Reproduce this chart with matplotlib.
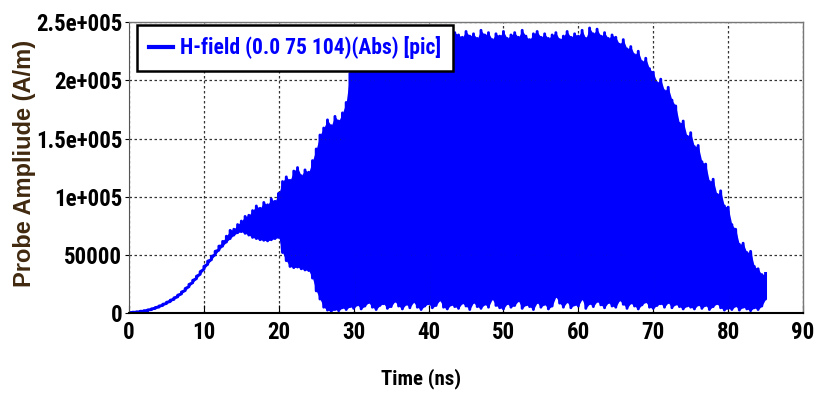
import os
import matplotlib
matplotlib.use('Agg')
import matplotlib.pyplot as plt
from matplotlib import font_manager as fm
import numpy as np

# sampled every 0.5 ns, 0 .. 85 ns
t_ns = np.arange(0, 85.01, 0.5)

# upper envelope of |H| (A/m)
h_upper = [
    500, 700, 1000, 1500, 2000, 2700, 3600, 4700, 6000, 7500,
    9200, 11000, 13000, 15300, 18000, 21000, 24500, 28000, 31500, 35500,
    40000, 44500, 48500, 53000, 57500, 61500, 66000, 71000, 72000, 76000,
    79000, 83000, 84000, 88000, 92000, 90000, 95000, 93000, 98000, 96000,
    103000, 113000, 117000, 114000, 122000, 125000, 118000, 123000, 121000, 131000,
    141000, 153000, 159000, 166000, 161000, 169000, 165000, 172000, 181000, 206000,
    232000, 226000, 238000, 236000, 241000, 235000, 240000, 237000, 243000, 236000,
    239000, 242000, 235000, 240000, 244000, 238000, 241000, 236000, 243000, 239000,
    242000, 237000, 240000, 244000, 238000, 243000, 236000, 241000, 239000, 237000,
    242000, 238000, 240000, 236000, 243000, 239000, 241000, 235000, 240000, 238000,
    242000, 236000, 239000, 241000, 237000, 243000, 238000, 235000, 240000, 242000,
    237000, 240000, 236000, 239000, 241000, 235000, 238000, 242000, 237000, 240000,
    238000, 243000, 236000, 245000, 240000, 244000, 238000, 241000, 236000, 239000,
    237000, 231000, 235000, 227000, 229000, 222000, 225000, 216000, 219000, 210000,
    207000, 198000, 201000, 191000, 194000, 183000, 178000, 163000, 165000, 152000,
    155000, 143000, 144000, 130000, 128000, 113000, 115000, 102000, 105000, 92000,
    91000, 76000, 72000, 59000, 60000, 52000, 53000, 40000, 38000, 33000,
    34000,
]

# lower envelope of |H| (A/m)
h_lower = [
    0, 200, 500, 900, 1400, 2000, 2900, 3900, 5100, 6500,
    8100, 9800, 11700, 13900, 16400, 19300, 22600, 26000, 29500, 33300,
    37500, 41800, 45800, 50000, 54000, 57500, 61000, 64000, 67000, 69000,
    70000, 68500, 67000, 65000, 64000, 63000, 62500, 62000, 63000, 64000,
    65000, 52000, 45000, 40000, 39000, 39500, 38000, 37000, 36500, 30000,
    19000, 12000, 5000, 2500, 1500, 3000, 2000, 4500, 3000, 5500,
    4000, 7000, 3500, 6000, 9000, 5000, 3000, 6500, 8000, 4000,
    5500, 10000, 6000, 3500, 7500, 4500, 9500, 5000, 3000, 6000,
    8000, 4500, 6500, 11000, 5000, 3500, 7000, 5500, 4000, 8500,
    6000, 3000, 9000, 5500, 4000, 7500, 5000, 12000, 6500, 4500,
    3500, 8000, 5000, 6500, 10500, 4000, 7000, 5500, 3000, 9000,
    5000, 7500, 3500, 6000, 14000, 8500, 5000, 9500, 4500, 7000,
    6000, 12000, 4000, 8000, 5500, 10000, 7000, 4500, 9000, 6000,
    5000, 11000, 7500, 4000, 8500, 6000, 3500, 7000, 9500, 5000,
    4000, 6500, 8000, 5000, 9000, 4500, 7500, 5500, 3500, 6000,
    5000, 3500, 7000, 4000, 6500, 3000, 5500, 8000, 4500, 2500,
    4000, 3000, 6000, 2500, 5000, 3500, 2000, 4500, 3000, 6000,
    12000,
]

x_ticks = [0, 10, 20, 30, 40, 50, 60, 70, 80, 90]
y_ticks = [0, 50000, 100000, 150000, 200000, 250000]
y_tick_labels = ['0', '50000', '1e+005', '1.5e+005', '2e+005', '2.5e+005']
legend_label = 'H-field (0.0 75 104)(Abs) [pic]'

blue = '#0000ff'


def find_narrow_bold():
    """look for an Arial-Narrow-like bold face among installed fonts"""
    prefs = ['liberation', 'roboto', 'open', 'noto', 'dejavu']
    found = []
    for f in fm.fontManager.ttflist:
        nm = f.name.lower()
        fn = os.path.basename(f.fname).lower()
        narrow = ('narrow' in nm or 'condensed' in nm or 'narrow' in fn
                  or 'condensed' in fn
                  or f.stretch in ('condensed', 'semi-condensed'))
        bold = (f.weight in ('bold', 700) or 'bold' in fn)
        if 'italic' in fn or 'oblique' in fn or 'semibold' in fn:
            continue
        if narrow and bold:
            rank = next((i for i, p in enumerate(prefs) if p in nm), 9)
            found.append((rank, f.fname))
    if found:
        return sorted(found)[0][1]
    return None


narrow_path = find_narrow_bold()
if narrow_path:
    def fp(size):
        return fm.FontProperties(fname=narrow_path, size=size)
    tick_sz, leg_sz, xl_sz = 16.5, 15.5, 15
else:
    def fp(size):
        return fm.FontProperties(family='Liberation Sans', weight='bold', size=size)
    tick_sz, leg_sz, xl_sz = 13.7, 12.5, 12.8

fig = plt.figure(figsize=(8.14, 3.96), dpi=100)
ax = fig.add_axes([0.1585, 0.2096, 0.828, 0.7344])

upper = np.array(h_upper, dtype=float)
lower = np.array(h_lower, dtype=float)

# solid body of the oscillation plus jagged strokes
ax.fill_between(t_ns, lower, upper, color=blue, lw=0)
saw_t = np.repeat(t_ns, 2)
saw_v = np.column_stack([lower, upper]).ravel()
ax.plot(saw_t, saw_v, color=blue, lw=2.1, label=legend_label)

ax.set_xlim(0, 90)
ax.set_ylim(0, 250000)
ax.set_xticks(x_ticks)
ax.set_xticklabels([str(v) for v in x_ticks])
ax.set_yticks(y_ticks)
ax.set_yticklabels(y_tick_labels)
for lab in ax.get_xticklabels() + ax.get_yticklabels():
    lab.set_fontproperties(fp(tick_sz))
ax.tick_params(axis='x', direction='in', length=6, pad=6)
ax.tick_params(axis='y', direction='out', length=3, pad=2)

ax.grid(True, color='#333333', linestyle=(0, (2, 2)), linewidth=0.9)
for side in ['top', 'right']:
    ax.spines[side].set_color('#777777')
    ax.spines[side].set_linewidth(1.0)
ax.spines['bottom'].set_linewidth(1.5)
ax.spines['left'].set_color('#555555')

leg = ax.legend(loc='upper left', bbox_to_anchor=(0.012, 0.992),
                fancybox=False, framealpha=1, edgecolor='black',
                prop=fp(leg_sz),
                handlelength=1.1, handletextpad=0.35, borderpad=0.55,
                borderaxespad=0)
leg.get_frame().set_linewidth(1.8)
for txt in leg.get_texts():
    txt.set_color(blue)
for ln in leg.get_lines():
    ln.set_linewidth(3)

fig.text(0.517, 0.018, 'Time (ns)', ha='center', va='bottom',
         fontproperties=fp(xl_sz))
fig.text(0.030, 0.588, 'Probe Ampliude (A/m)', rotation=90, ha='center',
         va='center', color='#40290f',
         fontproperties=fm.FontProperties(family='Liberation Sans',
                                          weight='bold', size=17))

fig.savefig('out.png', dpi=100)
